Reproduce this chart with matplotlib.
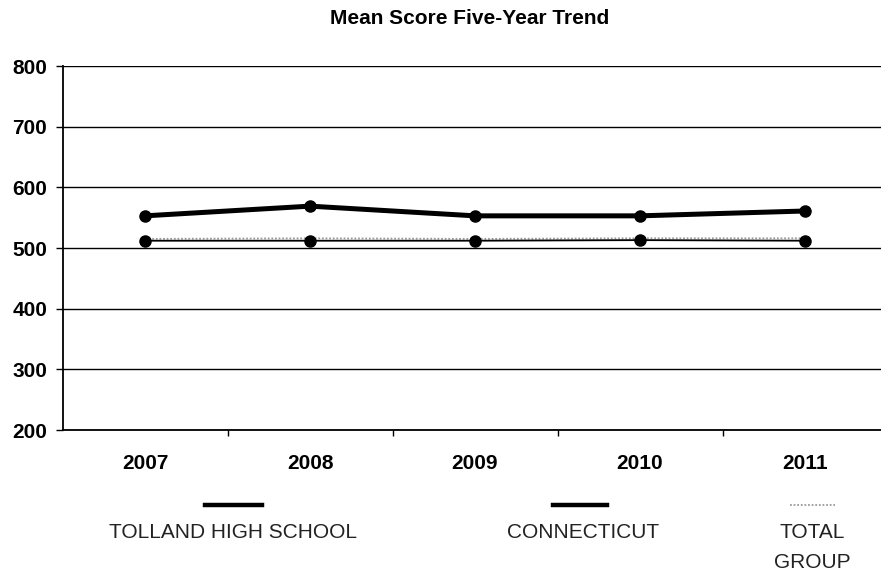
import matplotlib
matplotlib.use("Agg")
import matplotlib.pyplot as plt
from matplotlib.lines import Line2D
from matplotlib.ticker import FixedLocator

years = ["2007", "2008", "2009", "2010", "2011"]
tolland = [553, 569, 553, 553, 561]
connecticut = [512, 512, 512, 513, 512]
total_group = [515, 516, 515, 516, 516]
legend_labels = ["TOLLAND HIGH SCHOOL", "CONNECTICUT", "TOTAL\nGROUP"]
title = "Mean Score Five-Year Trend"

plt.rcParams['font.family'] = ['Liberation Sans', 'DejaVu Sans']

W, H = 881, 573
fig = plt.figure(figsize=(W / 100, H / 100), dpi=100)
left, right, top, bottom = 62.5, 887.5, 66, 430
ax = fig.add_axes([left / W, 1 - bottom / H, (right - left) / W, (bottom - top) / H])

x = list(range(len(years)))
ax.plot(x, total_group, color="#9a9a9a", lw=1.3, ls=(0, (1, 1)), zorder=3)
ax.plot(x, connecticut, color="black", lw=1.3, marker="o", ms=8, zorder=4)
ax.plot(x, tolland, color="black", lw=3.6, marker="o", ms=8, zorder=5)

ax.set_xlim(-0.5, 4.5)
ax.set_ylim(200, 800)
ax.set_yticks(range(200, 801, 100))
ax.yaxis.grid(True, color="black", lw=1.0)
ax.set_axisbelow(True)
ax.set_xticks(x)
ax.set_xticklabels(years, fontsize=15, fontweight="bold")
ax.xaxis.set_minor_locator(FixedLocator([0.5, 1.5, 2.5, 3.5]))
ax.tick_params(axis="x", which="major", length=0, pad=17)
ax.tick_params(axis="x", which="minor", length=4, width=1, direction="out")
ax.tick_params(axis="y", length=5, width=1, pad=6, labelsize=15)
for lab in ax.get_yticklabels():
    lab.set_fontweight("bold")
for s in ["top", "right"]:
    ax.spines[s].set_visible(False)
ax.spines["left"].set_linewidth(1.3)
ax.spines["bottom"].set_linewidth(1.3)

fig.text(470 / W, 1 - 19 / H, title, ha="center", va="center", fontsize=15, fontweight="bold")

# legend samples and labels
samples = [(205, 262, "black", "-", 3.2), (553, 607, "black", "-", 3.2), (790, 835, "#9a9a9a", (0, (1, 1)), 1.3)]
label_x = [233, 583, 812]
for (x0, x1, c, ls, lw), tx, lab in zip(samples, label_x, legend_labels):
    fig.add_artist(Line2D([x0 / W, x1 / W], [1 - 505 / H, 1 - 505 / H], color=c, ls=ls, lw=lw))
    fig.text(tx / W, 1 - 523 / H, lab, ha="center", va="top", fontsize=15,
             color="#222222", linespacing=1.75, multialignment="center")

fig.savefig("out.png", dpi=100)
